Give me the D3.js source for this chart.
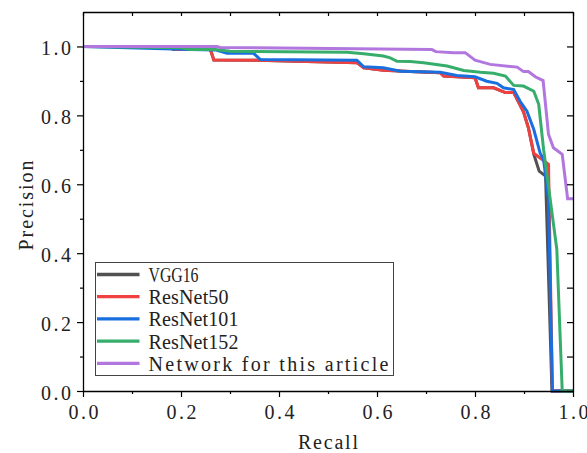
<!DOCTYPE html>
<html>
<head>
<meta charset="utf-8">
<script src="https://cdn.jsdelivr.net/npm/d3@7"></script>
<style>
  body { margin: 0; background: #fff; }
  svg text { font-family: "Liberation Serif", "DejaVu Serif", serif; fill: #222; }
</style>
</head>
<body>
<div id="chart"></div>
<script>
// series names + colours (Origin palette)
const seriesNames = ["VGG16", "ResNet50", "ResNet101", "ResNet152", "Network for this article"];
const seriesColors = ["#515151", "#F14040", "#1A6FDF", "#37AD6B", "#B177DE"];

// recall / precision
const vggRecall = [0, 0.17, 0.185, 0.26, 0.267, 0.355, 0.559, 0.573, 0.613, 0.668, 0.729, 0.736, 0.80, 0.807, 0.838, 0.862, 0.879, 0.899, 0.909, 0.920, 0.931, 0.944, 0.957, 1.0];
const vggPrecision = [1, 1, 0.991, 0.991, 0.961, 0.96, 0.953, 0.938, 0.931, 0.927, 0.924, 0.914, 0.909, 0.88, 0.88, 0.866, 0.866, 0.81, 0.764, 0.687, 0.638, 0.624, 0, 0];

const r50Recall = [0, 0.18, 0.19, 0.26, 0.267, 0.355, 0.559, 0.573, 0.613, 0.668, 0.729, 0.736, 0.80, 0.807, 0.838, 0.862, 0.879, 0.899, 0.909, 0.920, 0.95, 0.958, 1.0];
const r50Precision = [1, 1, 0.991, 0.991, 0.961, 0.96, 0.953, 0.938, 0.931, 0.927, 0.924, 0.914, 0.909, 0.88, 0.88, 0.866, 0.866, 0.81, 0.764, 0.69, 0.658, 0, 0];

const r101Recall = [0, 0.22, 0.27, 0.294, 0.348, 0.362, 0.559, 0.573, 0.613, 0.648, 0.729, 0.763, 0.80, 0.824, 0.845, 0.858, 0.879, 0.892, 0.906, 0.920, 0.933, 0.94, 0.95, 0.958, 1.0];
const r101Precision = [1, 0.991, 0.99, 0.98, 0.98, 0.962, 0.96, 0.941, 0.938, 0.928, 0.925, 0.916, 0.912, 0.899, 0.893, 0.88, 0.875, 0.841, 0.812, 0.759, 0.69, 0.672, 0.555, 0, 0];

const r152Recall = [0, 0.2, 0.22, 0.27, 0.30, 0.539, 0.573, 0.613, 0.627, 0.641, 0.668, 0.695, 0.743, 0.777, 0.811, 0.838, 0.862, 0.879, 0.899, 0.92, 0.93, 0.94, 0.967, 0.978, 1.0];
const r152Precision = [1, 0.996, 0.991, 0.991, 0.986, 0.983, 0.979, 0.972, 0.967, 0.957, 0.956, 0.953, 0.943, 0.93, 0.925, 0.922, 0.914, 0.887, 0.885, 0.87, 0.832, 0.701, 0.411, 0, 0];

const oursRecall = [0, 0.273, 0.28, 0.712, 0.72, 0.756, 0.78, 0.80, 0.811, 0.831, 0.886, 0.899, 0.909, 0.923, 0.939, 0.95, 0.96, 0.978, 0.989, 1.0];
const oursPrecision = [1, 1, 0.997, 0.991, 0.985, 0.982, 0.982, 0.96, 0.956, 0.948, 0.94, 0.927, 0.927, 0.912, 0.901, 0.745, 0.706, 0.687, 0.558, 0.558];

const xMajor = [0, 0.2, 0.4, 0.6, 0.8, 1.0];
const xMinor = [0.1, 0.3, 0.5, 0.7, 0.9];
const yMajor = [0, 0.2, 0.4, 0.6, 0.8, 1.0];
const yMinor = [0.1, 0.3, 0.5, 0.7, 0.9];

const allRecall = [vggRecall, r50Recall, r101Recall, r152Recall, oursRecall];
const allPrecision = [vggPrecision, r50Precision, r101Precision, r152Precision, oursPrecision];

const MARGIN = { top: 12, right: 14, bottom: 62, left: 83 };
const WIDTH = 587 - MARGIN.left - MARGIN.right;
const HEIGHT = 453 - MARGIN.top - MARGIN.bottom;
const CHAR_W = 10; // SimSun-like half-width cell

const svg = d3.select("#chart").append("svg")
    .attr("width", 587)
    .attr("height", 453);

const g = svg.append("g").attr("transform", `translate(${MARGIN.left},${MARGIN.top})`);

const x = d3.scaleLinear().domain([0, 1]).range([0, WIDTH]);
const y = d3.scaleLinear().domain([0, 1.1]).range([HEIGHT, 0]);

// fake a monospaced font: every character gets the same cell width
function mono(sel) {
    sel.each(function () {
        const t = d3.select(this);
        const target = t.text().length * CHAR_W;
        const natural = this.getComputedTextLength();
        t.attr("textLength", target)
            .attr("lengthAdjust", natural > target ? "spacingAndGlyphs" : "spacing");
    });
}

// curves
const line = d3.line().x(d => x(d[0])).y(d => y(d[1]));
seriesNames.forEach((name, i) => {
    const pts = d3.zip(allRecall[i], allPrecision[i]);
    g.append("path")
        .datum(pts)
        .attr("fill", "none")
        .attr("stroke", seriesColors[i])
        .attr("stroke-width", 3)
        .attr("stroke-linejoin", "miter")
        .attr("d", line);
});

// axes
function styleAxis(sel) {
    sel.selectAll(".domain").attr("stroke", "#000").attr("stroke-width", 1.3);
    sel.selectAll(".tick line").attr("stroke", "#000").attr("stroke-width", 1.2);
    sel.selectAll("text").attr("font-size", 20).attr("fill", "#222")
        .attr("font-family", "'Liberation Serif', 'DejaVu Serif', serif");
}

const fmt = d3.format(".1f");

const bottom = g.append("g").attr("transform", `translate(0,${HEIGHT})`)
    .call(d3.axisBottom(x).tickValues(xMajor).tickFormat(fmt).tickSizeInner(6).tickSizeOuter(0).tickPadding(8))
    .call(styleAxis);
bottom.selectAll("text").attr("dy", null).attr("y", 28).call(mono);
g.append("g").attr("transform", `translate(0,${HEIGHT})`)
    .call(d3.axisBottom(x).tickValues(xMinor).tickFormat("").tickSize(3))
    .call(styleAxis).select(".domain").remove();

const left = g.append("g")
    .call(d3.axisLeft(y).tickValues(yMajor).tickFormat(fmt).tickSizeInner(6).tickSizeOuter(0).tickPadding(6))
    .call(styleAxis);
left.selectAll("text").attr("dy", "0.4em").call(mono);
g.append("g")
    .call(d3.axisLeft(y).tickValues(yMinor).tickFormat("").tickSize(3))
    .call(styleAxis).select(".domain").remove();

// top & right spines with inward ticks
g.append("g")
    .call(d3.axisTop(x).tickValues(xMajor.concat(xMinor)).tickFormat("").tickSizeInner(-4).tickSizeOuter(0))
    .call(styleAxis);
g.append("g").attr("transform", `translate(${WIDTH},0)`)
    .call(d3.axisRight(y).tickValues(yMajor.concat(yMinor)).tickFormat("").tickSizeInner(-6).tickSizeOuter(0))
    .call(styleAxis);

// axis titles
svg.append("text")
    .attr("x", MARGIN.left + WIDTH / 2)
    .attr("y", 449)
    .attr("text-anchor", "middle")
    .attr("font-size", 20)
    .text("Recall")
    .call(mono);

svg.append("text")
    .attr("transform", `translate(33,${MARGIN.top + HEIGHT / 2 + 4}) rotate(-90)`)
    .attr("text-anchor", "middle")
    .attr("font-size", 20)
    .text("Precision")
    .call(mono);

// legend
const legend = svg.append("g").attr("transform", "translate(95.5,262.5)");
legend.append("rect")
    .attr("width", 298)
    .attr("height", 113)
    .attr("fill", "#fff")
    .attr("stroke", "#444")
    .attr("stroke-width", 1);

const rows = legend.selectAll("g.row")
    .data(seriesNames)
    .enter()
    .append("g")
    .attr("class", "row")
    .attr("transform", (d, i) => `translate(0,${12 + i * 22.2})`);

rows.append("line")
    .attr("x1", 1.5).attr("x2", 44)
    .attr("stroke", (d, i) => seriesColors[i])
    .attr("stroke-width", 3.3);

rows.append("text")
    .attr("x", 53)
    .attr("y", 7.5)
    .attr("font-size", 20)
    .text(d => d)
    .call(mono);
</script>
</body>
</html>
